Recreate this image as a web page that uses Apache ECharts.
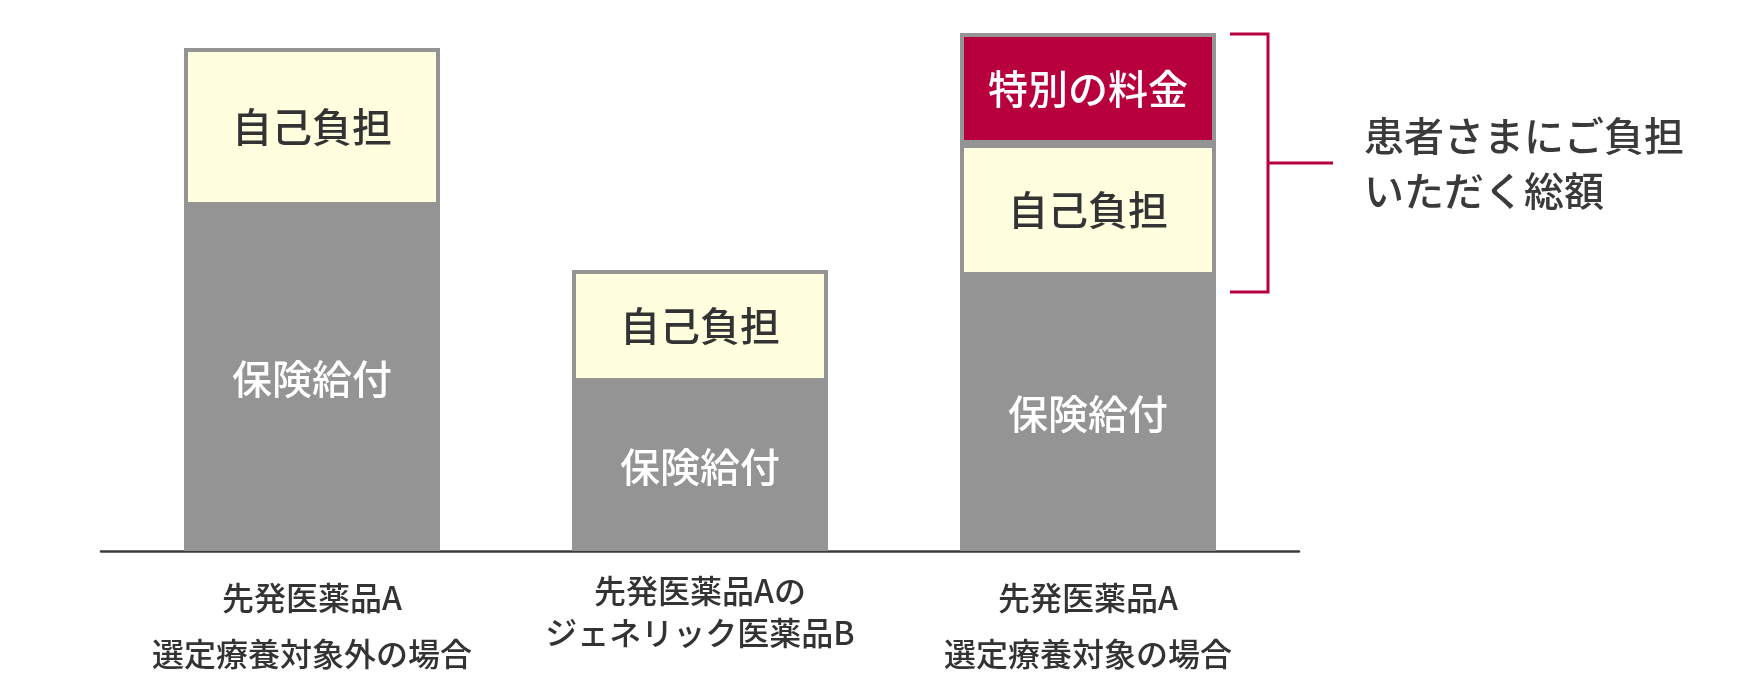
<!DOCTYPE html>
<html>
<head>
<meta charset="utf-8">
<style>
  html, body { margin: 0; background: #fff; }
  #chart { width: 1760px; height: 700px; }
</style>
<script src="https://cdn.jsdelivr.net/npm/echarts@6/dist/echarts.min.js"></script>
</head>
<body>
<div id="chart"></div>
<script>
const categories = [
  "先発医薬品A\n選定療養対象外の場合",
  "先発医薬品Aの\nジェネリック医薬品B",
  "先発医薬品A\n選定療養対象の場合"
];
const insurance = [345, 169, 275];   // 保険給付
const selfPay = [158, 112, 132];     // 自己負担
const specialFee = ["-", "-", 111];  // 特別の料金
const bracketRange = [259, 517];     // bracket span on bar 3
const bracketText = "患者さまにご負担\nいただく総額";

const FONT = "'Noto Sans CJK JP', 'Noto Sans', sans-serif";
const GRAY = "#949494";

function barSeries(name, data, color, labelColor) {
  return {
    name,
    type: "bar",
    stack: "total",
    data,
    barWidth: 256,
    silent: true,
    itemStyle: { color, borderColor: GRAY, borderWidth: 4 },
    label: {
      show: true,
      position: "inside",
      formatter: "{a}",
      color: labelColor,
      fontSize: 40,
      fontWeight: 500,
      fontFamily: FONT
    }
  };
}

function renderBracket(params, api) {
  const x = api.coord([api.value(0), 0])[0];
  const yLo = api.coord([0, api.value(1)])[1];
  const yHi = api.coord([0, api.value(2)])[1];
  const mid = (yLo + yHi) / 2;
  const x0 = x + 142, xv = x + 180, xt = x + 245;
  const stroke = { stroke: "#b8003f", lineWidth: 3, fill: null };
  return {
    type: "group",
    children: [
      { type: "polyline", shape: { points: [[x0, yHi], [xv, yHi], [xv, yLo], [x0, yLo]] }, style: stroke },
      { type: "line", shape: { x1: xv, y1: mid, x2: xt, y2: mid }, style: stroke },
      {
        type: "text",
        style: {
          text: bracketText,
          x: x + 276,
          y: mid,
          verticalAlign: "middle",
          align: "left",
          fill: "#3a3a3a",
          fontSize: 40,
          fontWeight: 500,
          lineHeight: 55,
          fontFamily: FONT
        }
      }
    ]
  };
}

const chart = echarts.init(document.getElementById("chart"));
chart.setOption({
  animation: false,
  grid: [
    { left: 118, width: 1164, top: 31, bottom: 149 },
    { left: 101, width: 1198, top: 31, bottom: 149 }
  ],
  xAxis: [
    {
      type: "category",
      gridIndex: 0,
      data: categories.map((c, i) => ({
        value: c,
        textStyle: { lineHeight: i === 1 ? 42 : 56 }
      })),
      axisLine: { show: false },
      axisTick: { show: false },
      axisLabel: { margin: 19, fontSize: 32, fontWeight: 500, color: "#333", fontFamily: FONT, interval: 0 }
    },
    {
      type: "value",
      gridIndex: 1,
      min: 0,
      max: 1,
      axisLine: { show: true, lineStyle: { color: "#3b3b3b", width: 2.5 } },
      axisTick: { show: false },
      axisLabel: { show: false },
      splitLine: { show: false }
    }
  ],
  yAxis: [
    { type: "value", gridIndex: 0, min: 0, max: 520, show: false },
    { type: "value", gridIndex: 1, min: 0, max: 1, show: false }
  ],
  series: [
    barSeries("保険給付", insurance, GRAY, "#fff"),
    barSeries("自己負担", selfPay, "#ffffdf", "#333"),
    barSeries("特別の料金", specialFee, "#b9003f", "#fff"),
    {
      type: "custom",
      silent: true,
      renderItem: renderBracket,
      encode: { x: 0, y: [1, 2] },
      data: [[2, bracketRange[0], bracketRange[1]]],
      z: 5
    }
  ]
});
</script>
</body>
</html>
